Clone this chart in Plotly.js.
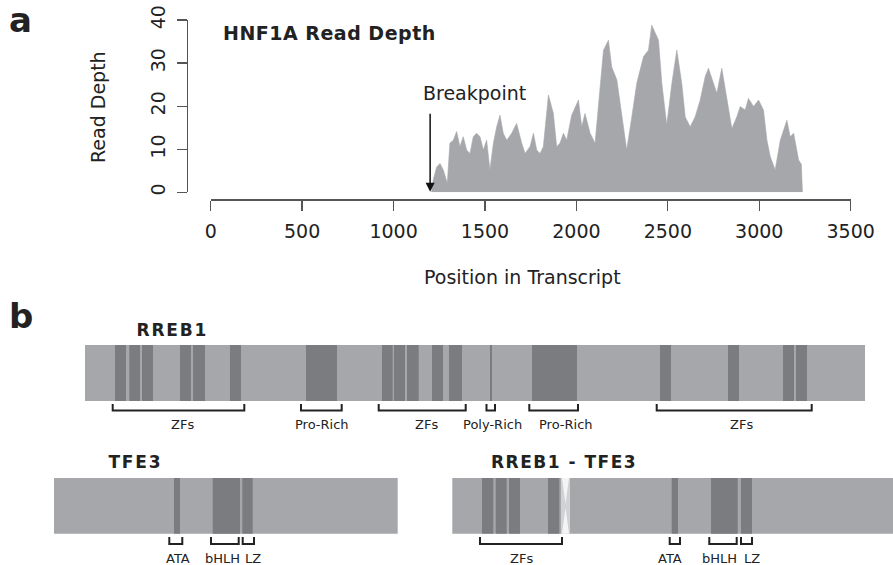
<!DOCTYPE html>
<html>
<head>
<meta charset="utf-8">
<script src="https://cdn.plot.ly/plotly-3.0.1.min.js"></script>
<style>
html,body{margin:0;padding:0;background:#fff;}
#chart{width:893px;height:565px;}
</style>
</head>
<body>
<div id="chart"></div>
<script>
// ---------- Panel a: HNF1A read depth ----------
const depthPos = [
  1208,1217,1236,1254,1272,1294,1308,1327,1345,1363,
  1381,1400,1418,1436,1454,1473,1491,1509,1527,1546,
  1564,1582,1600,1619,1646,1673,1701,1719,1746,1765,
  1783,1801,1819,1847,1874,1892,1910,1929,1947,1974,
  2011,2029,2047,2075,2102,2120,2148,2175,2193,2221,
  2248,2275,2303,2330,2367,2394,2412,2430,2449,2467,
  2494,2522,2549,2576,2595,2622,2649,2677,2704,2722,
  2750,2768,2795,2823,2850,2877,2896,2923,2941,2969,
  2996,3023,3042,3060,3087,3115,3151,3169,3188,3215,
  3230,3236
];
const depthVal = [
  0,2.9,5.9,6.7,5.2,2.1,11.4,12.1,14.1,10.6,
  12.9,9.8,9.0,12.9,13.7,12.9,9.8,12.1,5.2,11.4,
  15.2,17.9,13.7,12.1,13.7,16.0,11.4,9.0,10.6,13.7,
  9.8,9.0,10.6,22.6,18.3,10.6,11.4,13.7,12.1,17.9,
  21.4,15.2,18.3,13.7,11.4,20.6,33.0,35.3,29.1,26.1,
  17.5,9.8,17.5,25.3,31.5,33.0,38.8,36.9,35.3,25.3,
  15.6,25.3,33.0,25.3,17.5,15.2,17.5,21.4,26.8,28.8,
  25.3,23.0,28.8,21.4,14.8,17.5,19.9,19.1,21.8,19.9,
  21.4,19.1,12.1,8.3,5.2,12.1,16.7,12.9,13.7,7.5,
  6.5,0
];
const xTickVals = [0,500,1000,1500,2000,2500,3000,3500];
const yTickVals = [0,10,20,30,40];
const breakpointPos = 1200;
const breakpointLabel = "Breakpoint";

// ---------- Panel b: protein domain diagrams (diagram units) ----------
const rreb1Span = [85, 865];
const rreb1DomStart = [115,129.3,142,180,193,230,306,382,394,407,432,449,490,532,660,728,783,796];
const rreb1DomEnd   = [126,140,153,191,205,241,337,392.7,405,418.7,443,462,492,577,671,739,794,807];
const rreb1BrLabels = ["ZFs","Pro-Rich","ZFs","Poly-Rich","Pro-Rich","ZFs"];
const rreb1BrStart  = [112.7,301,378.7,486.5,529.3,656.7];
const rreb1BrEnd    = [244.3,341.7,465.7,495,578,811.7];
const rreb1LabelX   = [182,321.7,426.7,492.5,566,741];

const tfe3Span = [54, 397.7];
const tfe3DomStart = [174,212.7,242.3];
const tfe3DomEnd   = [180,240,252.7];
const tfe3BrLabels = ["ATA","bHLH","LZ"];
const tfe3BrStart  = [169.3,211,242.7];
const tfe3BrEnd    = [182.3,238.7,254];
const tfe3LabelX   = [177.5,222,252.5];

const fusionSpan = [452.3, 893];
const fusionDomStart = [482,495.7,509,548,671.7,711,741];
const fusionDomEnd   = [493.3,506.7,520,559.3,678,737.7,752];
const fusionJunction = [561, 570];
const fusionBrLabels = ["ZFs","ATA","bHLH","LZ"];
const fusionBrStart  = [480,669.7,709.3,741];
const fusionBrEnd    = [562,680,736.7,752];
const fusionLabelX   = [521,670,719,752];

const geneNames = ["RREB1","TFE3","RREB1 - TFE3"];

// ---------- styles / layout constants ----------
const W = 893, H = 565;
const FONT = "DejaVu Sans";
const LIGHT = "#a6a7ab", DARK = "#7b7c80", INK = "#222222", AXIS = "#555555";
const px = v => v / W;            // pixel -> paper x
const py = v => 1 - v / H;        // pixel -> paper y

const rows = {
  top:   {y0: 345, y1: 401, br0: 404, br1: 410.5, lab: 424},
  bottom:{y0: 478, y1: 533.7, br0: 537, br1: 544, lab: 558}
};

const shapes = [];
const annotations = [];

function addBar(span, ds, de, row) {
  shapes.push({type:"rect", xref:"x2", yref:"y2", x0:span[0], x1:span[1], y0:row.y0, y1:row.y1,
               fillcolor:LIGHT, line:{width:0}});
  for (let i = 0; i < ds.length; i++) {
    shapes.push({type:"rect", xref:"x2", yref:"y2", x0:ds[i], x1:de[i], y0:row.y0, y1:row.y1,
                 fillcolor:DARK, line:{width:0}});
  }
}
function bracketTrace(bs, be, labels, labelX, row) {
  const xs = [], ys = [];
  for (let i = 0; i < bs.length; i++) {
    xs.push(bs[i], bs[i], be[i], be[i], null);
    ys.push(row.br0, row.br1, row.br1, row.br0, null);
    annotations.push({xref:"x2", yref:"y2", x:labelX[i], y:row.lab, text:labels[i],
      showarrow:false, xanchor:"center", yanchor:"middle",
      font:{family:FONT, size:13, color:INK}});
  }
  return {type:"scatter", mode:"lines", x:xs, y:ys, xaxis:"x2", yaxis:"y2",
          line:{color:INK, width:2}, hoverinfo:"skip", connectgaps:false};
}

addBar(rreb1Span, rreb1DomStart, rreb1DomEnd, rows.top);
addBar(tfe3Span, tfe3DomStart, tfe3DomEnd, rows.bottom);
addBar(fusionSpan, fusionDomStart, fusionDomEnd, rows.bottom);

// fusion junction (pinched lighter segment)
const jm = (fusionJunction[0] + fusionJunction[1]) / 2;
const ym = (rows.bottom.y0 + rows.bottom.y1) / 2;
shapes.push({type:"rect", xref:"x2", yref:"y2", x0:fusionJunction[0], x1:fusionJunction[1],
             y0:rows.bottom.y0, y1:rows.bottom.y1, fillcolor:"#d2d2d4", line:{width:0}});
shapes.push({type:"path", xref:"x2", yref:"y2",
  path:`M ${fusionJunction[0]+1},${rows.bottom.y0} L ${fusionJunction[1]-1},${rows.bottom.y0} L ${jm},${ym-2} Z`,
  fillcolor:"#f4f4f4", line:{width:0}});
shapes.push({type:"path", xref:"x2", yref:"y2",
  path:`M ${fusionJunction[0]+1},${rows.bottom.y1} L ${fusionJunction[1]-1},${rows.bottom.y1} L ${jm},${ym+2} Z`,
  fillcolor:"#f4f4f4", line:{width:0}});

const traces = [
  {type:"scatter", mode:"lines", x:depthPos, y:depthVal, xaxis:"x", yaxis:"y",
   fill:"tozeroy", fillcolor:LIGHT, line:{color:LIGHT, width:0.6}, hoverinfo:"skip"},
  bracketTrace(rreb1BrStart, rreb1BrEnd, rreb1BrLabels, rreb1LabelX, rows.top),
  bracketTrace(tfe3BrStart, tfe3BrEnd, tfe3BrLabels, tfe3LabelX, rows.bottom),
  bracketTrace(fusionBrStart, fusionBrEnd, fusionBrLabels, fusionLabelX, rows.bottom)
];

// gene names
const geneLabelPos = [[172, 330],[135, 462],[563.5, 462]];
geneNames.forEach((g, i) => {
  annotations.push({xref:"x2", yref:"y2", x:geneLabelPos[i][0], y:geneLabelPos[i][1], text:"<b>"+g+"</b>",
    showarrow:false, xanchor:"center", yanchor:"middle", font:{family:FONT, size:17, color:INK}});
});

// panel a texts
annotations.push(
  {xref:"paper", yref:"paper", x:px(20), y:py(20), text:"<b>a</b>", showarrow:false,
   xanchor:"center", yanchor:"middle", font:{family:FONT, size:34, color:INK}},
  {xref:"paper", yref:"paper", x:px(21), y:py(316), text:"<b>b</b>", showarrow:false,
   xanchor:"center", yanchor:"middle", font:{family:FONT, size:34, color:INK}},
  {xref:"paper", yref:"paper", x:px(329), y:py(33), text:"<b>HNF1A Read Depth</b>", showarrow:false,
   xanchor:"center", yanchor:"middle", font:{family:FONT, size:19, color:INK}},
  {xref:"paper", yref:"paper", x:px(98.5), y:py(107.5), text:"Read Depth", textangle:-90, showarrow:false,
   xanchor:"center", yanchor:"middle", font:{family:FONT, size:19, color:INK}},
  {xref:"paper", yref:"paper", x:px(522), y:py(277), text:"Position in Transcript", showarrow:false,
   xanchor:"center", yanchor:"middle", font:{family:FONT, size:19, color:INK}},
  {xref:"x", yref:"y", x:1440, y:23, text:breakpointLabel, showarrow:false,
   xanchor:"center", yanchor:"middle", font:{family:FONT, size:19, color:INK}},
  {xref:"x", yref:"y", axref:"x", ayref:"y", x:breakpointPos, y:0.1, ax:breakpointPos, ay:18.6,
   text:"", showarrow:true, arrowhead:2, arrowsize:1.2, arrowwidth:1.5, arrowcolor:"#111"}
);

const layout = {
  width:W, height:H, autosize:false,
  margin:{l:0, r:0, t:0, b:0, pad:0},
  paper_bgcolor:"#fff", plot_bgcolor:"rgba(0,0,0,0)",
  showlegend:false,
  font:{family:FONT, color:INK},
  xaxis:{domain:[px(210.7), px(850.7)], range:[0,3500], anchor:"free", position:py(199.3),
    tickvals:xTickVals, ticktext:xTickVals.map(String), ticks:"outside", ticklen:10.5, tickwidth:1.3,
    tickcolor:AXIS, showline:true, linecolor:AXIS, linewidth:1.3, showgrid:false, zeroline:false,
    tickfont:{family:FONT, size:19, color:INK}, ticklabelstandoff:4, fixedrange:true},
  yaxis:{domain:[py(192.3), py(20)], range:[0,40], anchor:"free", position:px(186.7),
    tickvals:yTickVals, ticktext:yTickVals.map(String), ticks:"outside", ticklen:10, tickwidth:1.3,
    tickcolor:AXIS, showline:true, linecolor:AXIS, linewidth:1.3, showgrid:false, zeroline:false,
    tickangle:-90, tickfont:{family:FONT, size:19, color:INK}, ticklabelstandoff:4, fixedrange:true},
  xaxis2:{domain:[0,1], range:[0,W], anchor:"y2", visible:false, fixedrange:true},
  yaxis2:{domain:[0,1], range:[H,0], anchor:"x2", visible:false, fixedrange:true},
  shapes:shapes,
  annotations:annotations
};

const spacing = {"RREB1":"1.8px","TFE3":"1.8px","RREB1 - TFE3":"1.5px","HNF1A Read Depth":"0.5px"};
Plotly.newPlot("chart", traces, layout, {staticPlot:true, displayModeBar:false}).then(() => {
  document.querySelectorAll(".annotation-text").forEach(t => {
    const s = spacing[t.textContent];
    if (s) t.style.letterSpacing = s;
  });
});
</script>
</body>
</html>
